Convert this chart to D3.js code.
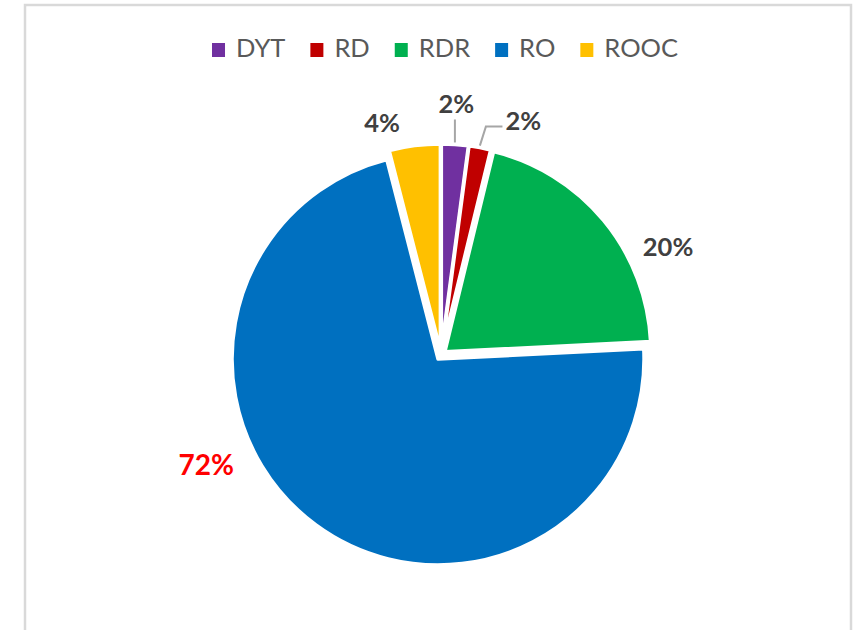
<!DOCTYPE html>
<html>
<head>
<meta charset="utf-8">
<script src="https://cdn.jsdelivr.net/npm/d3@7"></script>
<style>
  body { margin: 0; background: #fff; }
  svg { display: block; font-family: Lato, "Open Sans", sans-serif; }
</style>
</head>
<body>
<svg id="svgmain" width="859" height="630"></svg>
<script>
// data
var categories = ["DYT", "RD", "RDR", "RO", "ROOC"]
var shares = [2.1, 1.7, 20.4, 71.8, 4.0]
var colors = ["#7030a0", "#c00000", "#00b050", "#0070c0", "#ffc000"]

// label layout: angle (deg, clockwise from 12 o'clock) and distance from centre
var labelAngle = [3.5, 19.3, 64.3, 245, 345.8]
var labelDist = [252, 249, 252, 259, 240]

var cx = 441, cy = 355, radius = 206, explode = 5
var svg = d3.select("#svgmain")

// chart area frame
svg.append("rect").attr("x", 25).attr("y", 5).attr("width", 826).attr("height", 660)
    .attr("fill", "#fff").attr("stroke", "#d9d9d9").attr("stroke-width", 2.5)

var total = d3.sum(shares)
var pie = d3.pie().sort(null).value(function(d) { return d })
var arcs = pie(shares)
var arc = d3.arc().innerRadius(0).outerRadius(radius)

function dir(a) { return [Math.sin(a), -Math.cos(a)] }

var g = svg.append("g").attr("transform", "translate(" + cx + "," + cy + ")")

g.selectAll("path.slice").data(arcs).enter().append("path")
    .attr("class", "slice")
    .attr("d", arc)
    .attr("fill", function(d, i) { return colors[i] })
    .attr("stroke", "#fff").attr("stroke-width", 3.5).attr("stroke-linejoin", "round")
    .attr("transform", function(d) {
        var m = dir((d.startAngle + d.endAngle) / 2)
        return "translate(" + (m[0] * explode) + "," + (m[1] * explode) + ")"
    })

// data labels
var fmt = d3.format(".0%")
arcs.forEach(function(d, i) {
    var a = labelAngle[i] * Math.PI / 180
    var p = dir(a)
    var lx = p[0] * labelDist[i], ly = p[1] * labelDist[i]
    var big = categories[i] == "RO"
    var t = g.append("text")
        .attr("x", lx).attr("y", ly)
        .attr("text-anchor", "middle").attr("dominant-baseline", "central")
        .attr("font-size", big ? 28 : 25.5).attr("font-weight", "bold")
        .attr("fill", big ? "#ff0000" : "#404040")
        .text(fmt(shares[i] / total))
    var bb = t.node().getBBox()

    // leader lines only for the thin slices whose labels sit away from them
    var mid = (d.startAngle + d.endAngle) / 2
    var m = dir(mid)
    var sx = m[0] * (radius + explode), sy = m[1] * (radius + explode)
    var inside = sx > bb.x - 2 && sx < bb.x + bb.width + 2
    if (d.endAngle - d.startAngle > 0.2) return
    var pts
    if (inside) {
        pts = [[sx, sy - 2], [sx, bb.y + bb.height + 1]]
    } else {
        var ey = bb.y + bb.height * 0.72
        pts = [[sx, sy - 2], [sx + 6, ey], [bb.x - 3, ey]]
    }
    g.append("polyline")
        .attr("points", pts.map(function(q) { return q.join(",") }).join(" "))
        .attr("fill", "none").attr("stroke", "#a6a6a6").attr("stroke-width", 2)
})

// legend
var legend = svg.append("g")
var lx = 0
categories.forEach(function(c, i) {
    legend.append("rect").attr("x", lx).attr("y", -14).attr("width", 13).attr("height", 14)
        .attr("fill", colors[i])
    var t = legend.append("text").attr("x", lx + 24).attr("y", 0)
        .attr("font-size", 25.5).attr("fill", "#595959").text(c)
    lx += 24 + t.node().getComputedTextLength() + 25
})
var lw = lx - 25
legend.attr("transform", "translate(" + (445 - lw / 2) + ",57)")
</script>
</body>
</html>
